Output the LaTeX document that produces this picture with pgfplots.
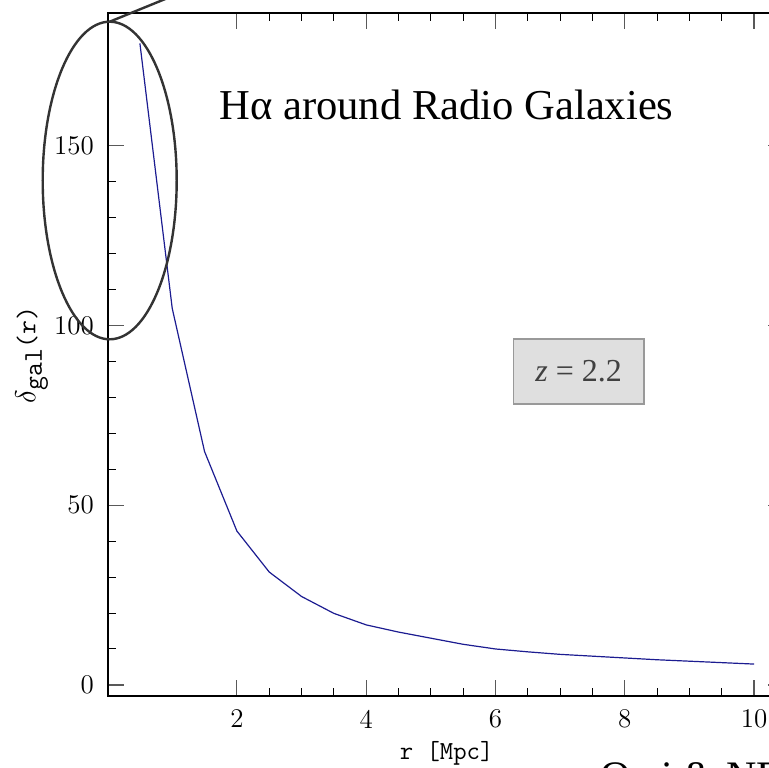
\documentclass[border=0pt]{standalone}
\usepackage{fontspec}
\usepackage{pgfplots}
\usepackage{pgfplotstable}
\pgfplotsset{compat=1.18}
\newfontfamily\serifgr{Liberation Serif}
\definecolor{curvenavy}{RGB}{28,28,145}
\newcommand\tickfont{\fontsize{13.5}{16}\selectfont}

% overdensity profile
\pgfplotstableread{
r     delta
0.5   178.4
1.0   104.7
1.5   64.9
2.0   42.8
2.5   31.4
3.0   24.6
3.5   19.9
4.0   16.7
4.5   14.7
5.0   13.0
5.5   11.3
6.0   10.0
6.5   9.2
7.0   8.5
7.5   8.0
8.0   7.5
8.5   7.0
9.0   6.6
9.5   6.2
10.0  5.8
}\profile

\begin{document}
\begin{tikzpicture}
\begin{axis}[
    at={(0,0)}, anchor=south west,
    scale only axis,
    width=338.4pt, height=341.6pt,
    xmin=0, xmax=10.47,
    ymin=-3, ymax=187,
    xtick={2,4,6,8,10},
    ytick={0,50,100,150},
    minor x tick num=3,
    minor y tick num=4,
    tick align=inside,
    major tick length=8pt,
    minor tick length=4pt,
    major tick style={gray!70!black, line width=0.6pt},
    minor tick style={black, line width=0.5pt},
    axis line style={line width=1pt},
    /pgf/number format/assume math mode=true,
    xticklabel={\tickfont\pgfmathprintnumber{\tick}},
    yticklabel={\tickfont\pgfmathprintnumber{\tick}},
    yticklabel style={xshift=-3.3pt},
    xticklabel style={yshift=-3.5pt},
    xlabel={\texttt{r [Mpc]}},
    xlabel style={at={(axis description cs:0.501,-0.0839)}, anchor=center,
        font=\fontsize{13}{15}\selectfont},
    ylabel={$\delta_{\texttt{gal}}$\texttt{(r)}},
    ylabel style={at={(axis description cs:-0.112,0.499)}, anchor=center,
        font=\fontsize{13.5}{16}\selectfont},
]
\addplot[color=curvenavy, line width=0.6pt] table[x=r, y=delta] {\profile};
\end{axis}

% annotations in image pixel coordinates
\begin{scope}[shift={(-53.8pt,347.85pt)}, x=0.5pt, y=-0.5pt]
  \draw[black!80, line width=1.2pt] (109.7,180.5) ellipse [x radius=67, y radius=158.8];
  \draw[black!80, line width=1.2pt] (109.7,21.7) -- (300,-56);
  \node[anchor=base west, inner sep=0, font=\serifgr\fontsize{21.3}{25}\selectfont]
    at (219,119.3) {Hα around Radio Galaxies};
  \node[draw=gray!80, line width=0.75pt, fill=gray!25, minimum width=65.3pt,
        minimum height=32.5pt, text=black!75, font=\serifgr\fontsize{16}{19}\selectfont]
    at (578.7,371.5) {\textit{z} = 2.2};
  \node[anchor=north west, inner sep=0, font=\serifgr\fontsize{21}{25}\selectfont]
    at (600,762.5) {Orsi \& NE};
  \pgfresetboundingbox
  \useasboundingbox (0,0) rectangle (769,767);
\end{scope}
\end{tikzpicture}
\end{document}
